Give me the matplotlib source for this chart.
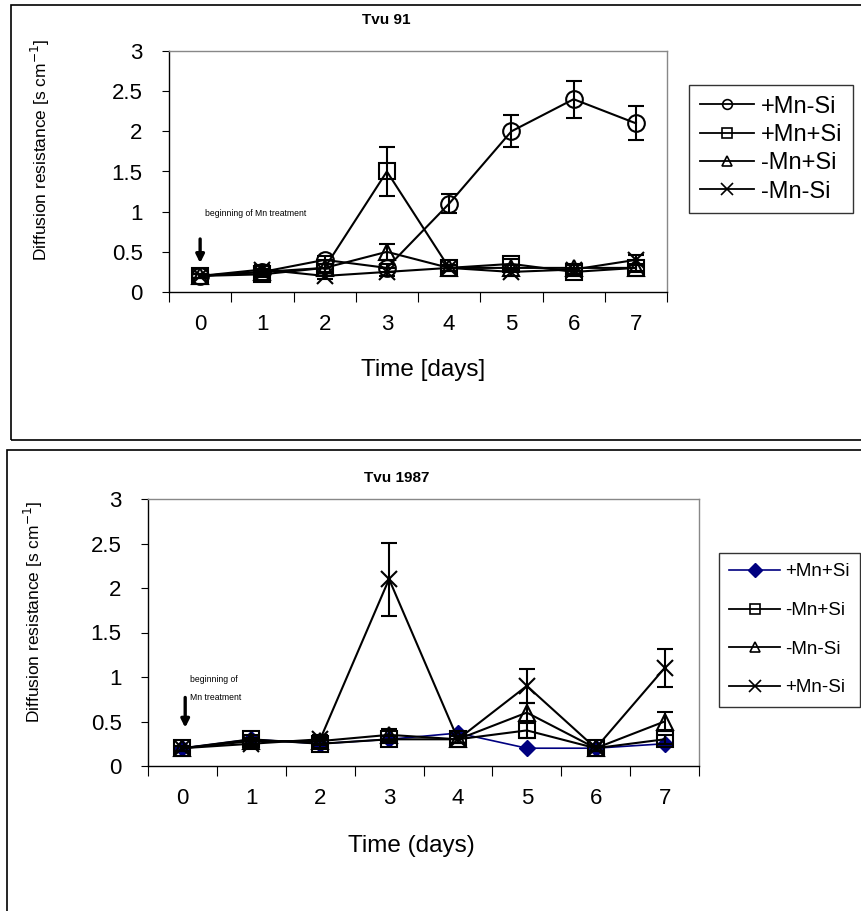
import matplotlib
matplotlib.use("Agg")
import matplotlib.pyplot as plt
from matplotlib.patches import Rectangle
from matplotlib.lines import Line2D

plt.rcParams['font.family'] = ['Liberation Sans', 'DejaVu Sans']

# ---------------- data ----------------
days = [0, 1, 2, 3, 4, 5, 6, 7]
day_labels = ["0", "1", "2", "3", "4", "5", "6", "7"]

# Tvu 91
t91_labels = ["+Mn-Si", "+Mn+Si", "-Mn+Si", "-Mn-Si"]
t91_pMn_mSi = [0.20, 0.25, 0.40, 0.30, 1.10, 2.00, 2.40, 2.10]
t91_pMn_mSi_err = [0.03, 0.04, 0.05, 0.05, 0.12, 0.20, 0.23, 0.21]
t91_pMn_pSi = [0.20, 0.22, 0.30, 1.50, 0.30, 0.35, 0.25, 0.30]
t91_pMn_pSi_err = [0.03, 0.03, 0.05, 0.31, 0.04, 0.06, 0.05, 0.05]
t91_mMn_pSi = [0.20, 0.25, 0.30, 0.50, 0.30, 0.30, 0.30, 0.30]
t91_mMn_pSi_err = [0.03, 0.04, 0.05, 0.10, 0.04, 0.04, 0.04, 0.04]
t91_mMn_mSi = [0.20, 0.28, 0.20, 0.25, 0.30, 0.25, 0.28, 0.40]
t91_mMn_mSi_err = [0.03, 0.06, 0.04, 0.05, 0.04, 0.05, 0.05, 0.06]

# Tvu 1987
t87_labels = ["+Mn+Si", "-Mn+Si", "-Mn-Si", "+Mn-Si"]
t87_pMn_pSi = [0.20, 0.30, 0.25, 0.30, 0.37, 0.20, 0.20, 0.25]
t87_mMn_pSi = [0.20, 0.30, 0.25, 0.30, 0.30, 0.40, 0.20, 0.30]
t87_mMn_pSi_err = [0.03, 0.05, 0.05, 0.04, 0.04, 0.08, 0.03, 0.05]
t87_mMn_mSi = [0.20, 0.28, 0.28, 0.35, 0.30, 0.60, 0.20, 0.50]
t87_mMn_mSi_err = [0.03, 0.04, 0.04, 0.07, 0.04, 0.11, 0.03, 0.11]
t87_pMn_mSi = [0.20, 0.25, 0.30, 2.10, 0.30, 0.90, 0.20, 1.10]
t87_pMn_mSi_err = [0.03, 0.04, 0.05, 0.41, 0.04, 0.19, 0.03, 0.21]

yticks = [0, 0.5, 1, 1.5, 2, 2.5, 3]
ytick_labels = ["0", "0.5", "1", "1.5", "2", "2.5", "3"]

# ---------------- figure ----------------
W, H = 862, 911
fig = plt.figure(figsize=(W / 100, H / 100), dpi=100)


def fx(px):
    return px / W


def fy(py):
    return 1 - py / H


# panel borders
fig.patches.append(Rectangle((fx(11), fy(440)), fx(870 - 11), (440 - 5) / H,
                             transform=fig.transFigure, fill=False,
                             edgecolor='black', lw=1.2))
fig.patches.append(Rectangle((fx(7), fy(915)), fx(870 - 7), (915 - 450) / H,
                             transform=fig.transFigure, fill=False,
                             edgecolor='black', lw=1.2))


def style_axes(ax):
    ax.set_xlim(-0.5, 7.5)
    ax.set_ylim(0, 3)
    ax.set_yticks(yticks)
    ax.set_yticklabels(ytick_labels, fontsize=16)
    ax.set_xticks([i - 0.5 for i in range(9)])
    ax.set_xticklabels([])
    ax.set_xticks(days, minor=True)
    ax.set_xticklabels(day_labels, minor=True, fontsize=16)
    ax.tick_params(axis='x', which='major', direction='out', length=7,
                   width=0.8, color='black')
    ax.tick_params(axis='x', which='minor', length=0, pad=16)
    ax.tick_params(axis='y', direction='out', length=5, width=0.8, pad=14)
    for s in ['top', 'right']:
        ax.spines[s].set_color('#888888')
        ax.spines[s].set_linewidth(1.0)
    for s in ['left', 'bottom']:
        ax.spines[s].set_color('black')
        ax.spines[s].set_linewidth(1.0)


def series(ax, y, err, marker, color='black', ms=11, lw=1.5):
    ax.errorbar(days, y, yerr=err, fmt='-', marker=marker, color=color,
                ecolor='black', elinewidth=1.5, capsize=6, capthick=1.5,
                lw=lw, ms=ms, mfc='none', mec=color, mew=1.5)


# ---------------- top panel ----------------
ax1 = fig.add_axes([fx(169), fy(292), fx(667 - 169), (292 - 51) / H])
style_axes(ax1)
series(ax1, t91_pMn_mSi, t91_pMn_mSi_err, 'o', ms=12)
series(ax1, t91_pMn_pSi, t91_pMn_pSi_err, 's')
series(ax1, t91_mMn_pSi, t91_mMn_pSi_err, '^')
series(ax1, t91_mMn_mSi, t91_mMn_mSi_err, 'x', ms=11)
ax1.text(0.08, 0.98, "beginning of Mn treatment", fontsize=6.2, va='center',
         ha='left')
ax1.annotate("", xy=(0.0, 0.36), xytext=(0.0, 0.66),
             arrowprops=dict(arrowstyle='-|>', lw=2.4, color='black',
                             mutation_scale=12, shrinkA=0, shrinkB=0))

fig.text(fx(386), fy(20), "Tvu 91", fontsize=11, fontweight='bold',
         ha='center', va='center')
fig.text(fx(40), fy(150), "Diffusion resistance [s cm$^{-1}$]", fontsize=12.5,
         rotation=90, ha='center', va='center')
fig.text(fx(423), fy(370), "Time [days]", fontsize=17.5, ha='center',
         va='center')

h1 = [Line2D([], [], color='black', lw=1.3, marker=m, ms=s, mfc='none',
             mec='black', mew=1.2)
      for m, s in zip(['o', 's', '^', 'x'], [7, 7, 7, 9])]
leg1 = fig.legend(h1, t91_labels, loc='upper left',
                  bbox_to_anchor=(fx(689), fy(85)), fontsize=17,
                  frameon=True, fancybox=False, edgecolor='black',
                  handlelength=2.3, handletextpad=0.3, labelspacing=0.27,
                  borderpad=0.45, borderaxespad=0)
leg1.get_frame().set_linewidth(1.0)

# ---------------- bottom panel ----------------
ax2 = fig.add_axes([fx(148), fy(766), fx(699 - 148), (766 - 499) / H])
style_axes(ax2)
ax2.plot(days, t87_pMn_pSi, '-', marker='D', color='#000080', lw=1.2, ms=8,
         mfc='#000080', mec='#000080')
series(ax2, t87_mMn_pSi, t87_mMn_pSi_err, 's')
series(ax2, t87_mMn_mSi, t87_mMn_mSi_err, '^')
series(ax2, t87_pMn_mSi, t87_pMn_mSi_err, 'x', ms=12)
ax2.text(0.11, 0.97, "beginning of", fontsize=6.2, va='center', ha='left')
ax2.text(0.11, 0.77, "Mn treatment", fontsize=6.2, va='center', ha='left')
ax2.annotate("", xy=(0.04, 0.43), xytext=(0.04, 0.77),
             arrowprops=dict(arrowstyle='-|>', lw=2.4, color='black',
                             mutation_scale=12, shrinkA=0, shrinkB=0))

fig.text(fx(397), fy(478), "Tvu 1987", fontsize=11, fontweight='bold',
         ha='center', va='center')
fig.text(fx(33), fy(612), "Diffusion resistance [s cm$^{-1}$]", fontsize=12.5,
         rotation=90, ha='center', va='center')
fig.text(fx(411), fy(846), "Time (days)", fontsize=17.5, ha='center',
         va='center')

h2 = [Line2D([], [], color='#000080', lw=1.2, marker='D', ms=7,
             mfc='#000080', mec='#000080')]
h2 += [Line2D([], [], color='black', lw=1.3, marker=m, ms=s, mfc='none',
              mec='black', mew=1.2)
       for m, s in zip(['s', '^', 'x'], [7, 7, 9])]
leg2 = fig.legend(h2, t87_labels, loc='upper left',
                  bbox_to_anchor=(fx(719), fy(553)), fontsize=13.5,
                  frameon=True, fancybox=False, edgecolor='black',
                  handlelength=2.7, handletextpad=0.3, labelspacing=1.15,
                  borderpad=0.55, borderaxespad=0)
leg2.get_frame().set_linewidth(1.0)

fig.savefig("out.png", dpi=100)
